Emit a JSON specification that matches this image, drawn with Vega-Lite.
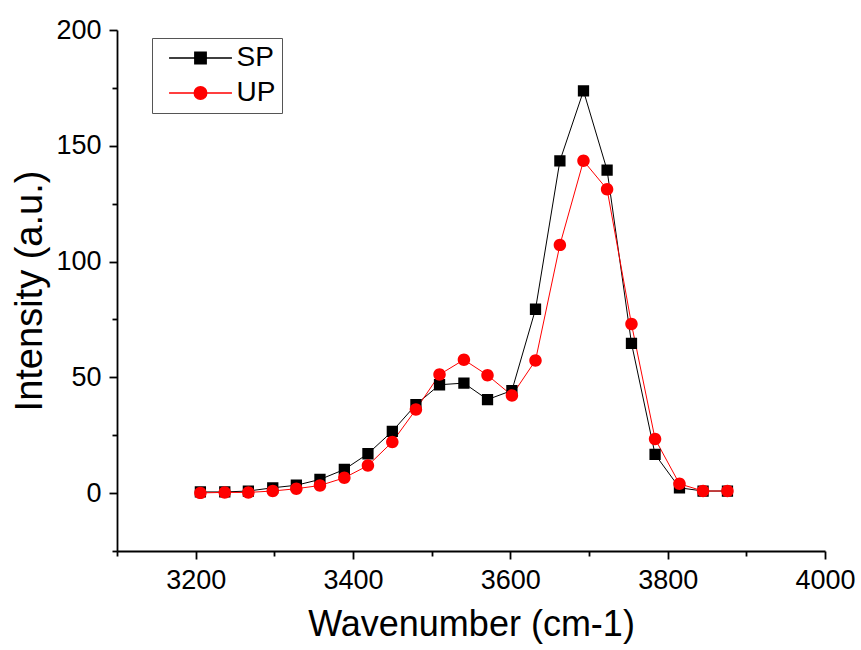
{
  "$schema": "https://vega.github.io/schema/vega-lite/v6.json",
  "width": 708,
  "height": 521,
  "autosize": "none",
  "padding": {"left": 117, "top": 30, "right": 36, "bottom": 99},
  "background": "white",
  "config": {
    "view": {"stroke": null},
    "font": "Liberation Sans",
    "axis": {
      "domainColor": "#000000",
      "tickColor": "#000000",
      "labelColor": "#000000",
      "titleColor": "#000000",
      "domainWidth": 1.8,
      "tickWidth": 1.8,
      "grid": false,
      "labelFont": "Liberation Sans",
      "titleFont": "Liberation Sans",
      "labelFontSize": 27,
      "titleFontSize": 36,
      "titleFontWeight": "normal",
      "labelFlush": false,
      "labelOverlap": false,
      "format": "d"
    },
    "legend": {
      "title": null, "orient": "none", "legendX": 35, "legendY": 8,
      "symbolSize": 576, "symbolOffset": 28.5, "labelOffset": 22,
      "labelFontSize": 28, "labelFont": "Liberation Sans", "labelColor": "#000000",
      "strokeColor": "#555555", "fillColor": "white", "padding": 6, "rowPadding": 7
    }
  },
  "data": {
    "values": [
      {"wavenumber": 3206, "intensity": 0.5, "series": "SP"},
      {"wavenumber": 3237, "intensity": 0.5, "series": "SP"},
      {"wavenumber": 3267, "intensity": 0.9, "series": "SP"},
      {"wavenumber": 3298, "intensity": 2.3, "series": "SP"},
      {"wavenumber": 3328, "intensity": 3.4, "series": "SP"},
      {"wavenumber": 3358, "intensity": 5.9, "series": "SP"},
      {"wavenumber": 3389, "intensity": 10.2, "series": "SP"},
      {"wavenumber": 3419, "intensity": 17.0, "series": "SP"},
      {"wavenumber": 3450, "intensity": 26.7, "series": "SP"},
      {"wavenumber": 3480, "intensity": 38.2, "series": "SP"},
      {"wavenumber": 3510, "intensity": 46.8, "series": "SP"},
      {"wavenumber": 3541, "intensity": 47.5, "series": "SP"},
      {"wavenumber": 3571, "intensity": 40.4, "series": "SP"},
      {"wavenumber": 3602, "intensity": 44.3, "series": "SP"},
      {"wavenumber": 3632, "intensity": 79.4, "series": "SP"},
      {"wavenumber": 3663, "intensity": 143.5, "series": "SP"},
      {"wavenumber": 3693, "intensity": 173.7, "series": "SP"},
      {"wavenumber": 3723, "intensity": 139.5, "series": "SP"},
      {"wavenumber": 3754, "intensity": 64.7, "series": "SP"},
      {"wavenumber": 3784, "intensity": 16.7, "series": "SP"},
      {"wavenumber": 3815, "intensity": 2.3, "series": "SP"},
      {"wavenumber": 3845, "intensity": 0.9, "series": "SP"},
      {"wavenumber": 3876, "intensity": 0.9, "series": "SP"},
      {"wavenumber": 3206, "intensity": 0.1, "series": "UP"},
      {"wavenumber": 3237, "intensity": 0.3, "series": "UP"},
      {"wavenumber": 3267, "intensity": 0.3, "series": "UP"},
      {"wavenumber": 3298, "intensity": 0.9, "series": "UP"},
      {"wavenumber": 3328, "intensity": 1.9, "series": "UP"},
      {"wavenumber": 3358, "intensity": 3.3, "series": "UP"},
      {"wavenumber": 3389, "intensity": 6.6, "series": "UP"},
      {"wavenumber": 3419, "intensity": 11.9, "series": "UP"},
      {"wavenumber": 3450, "intensity": 22.1, "series": "UP"},
      {"wavenumber": 3480, "intensity": 36.1, "series": "UP"},
      {"wavenumber": 3510, "intensity": 51.2, "series": "UP"},
      {"wavenumber": 3541, "intensity": 57.6, "series": "UP"},
      {"wavenumber": 3571, "intensity": 50.9, "series": "UP"},
      {"wavenumber": 3602, "intensity": 42.2, "series": "UP"},
      {"wavenumber": 3632, "intensity": 57.3, "series": "UP"},
      {"wavenumber": 3663, "intensity": 107.2, "series": "UP"},
      {"wavenumber": 3693, "intensity": 143.5, "series": "UP"},
      {"wavenumber": 3723, "intensity": 131.2, "series": "UP"},
      {"wavenumber": 3754, "intensity": 73.0, "series": "UP"},
      {"wavenumber": 3784, "intensity": 23.4, "series": "UP"},
      {"wavenumber": 3815, "intensity": 4.0, "series": "UP"},
      {"wavenumber": 3845, "intensity": 0.9, "series": "UP"},
      {"wavenumber": 3876, "intensity": 0.9, "series": "UP"}
    ]
  },
  "layer": [
    {
      "mark": {"type": "line", "strokeWidth": 1},
      "encoding": {
        "x": {
          "field": "wavenumber", "type": "quantitative",
          "scale": {"domain": [3100, 4000], "nice": false, "zero": false},
          "axis": {"orient": "bottom", "values": [3200, 3400, 3600, 3800, 4000], "tickSize": 8, "labelPadding": 8, "title": "Wavenumber (cm-1)", "titlePadding": 14}
        },
        "y": {
          "field": "intensity", "type": "quantitative",
          "scale": {"domain": [-25, 200], "nice": false, "zero": false},
          "axis": {"orient": "left", "values": [0, 50, 100, 150, 200], "tickSize": 8, "labelPadding": 8, "title": "Intensity (a.u.)", "titlePadding": 6, "titleFontSize": 38}
        },
        "color": {
          "field": "series", "type": "nominal",
          "scale": {"domain": ["SP", "UP"], "range": ["#000000", "#ff0000"]}
        }
      }
    },
    {
      "mark": {"type": "point", "filled": true, "size": 576, "strokeWidth": 0, "opacity": 1},
      "encoding": {
        "x": {
          "field": "wavenumber", "type": "quantitative",
          "axis": {"orient": "bottom", "values": [3100, 3300, 3500, 3700, 3900], "tickSize": 5, "labels": false, "domain": false, "title": null}
        },
        "y": {
          "field": "intensity", "type": "quantitative",
          "axis": {"orient": "left", "values": [-25, 25, 75, 125, 175], "tickSize": 5, "labels": false, "domain": false, "title": null}
        },
        "color": {
          "field": "series", "type": "nominal",
          "scale": {"domain": ["SP", "UP"], "range": ["#000000", "#ff0000"]}
        },
        "shape": {
          "field": "series", "type": "nominal",
          "scale": {"domain": ["SP", "UP"], "range": ["M-2.62,0H2.62M-0.47,-0.47H0.47V0.47H-0.47Z", "M-2.62,0H2.62M0.52,0A0.52,0.52,0,1,1,-0.52,0A0.52,0.52,0,1,1,0.52,0Z"]},
          "legend": {
            "encode": {"symbols": {"update": {"stroke": {"signal": "datum.value === 'SP' ? '#000000' : '#ff0000'"}, "strokeWidth": {"value": 1}, "opacity": {"value": 1}}}}
          }
        }
      }
    }
  ],
  "resolve": {"axis": {"x": "independent", "y": "independent"}}
}
